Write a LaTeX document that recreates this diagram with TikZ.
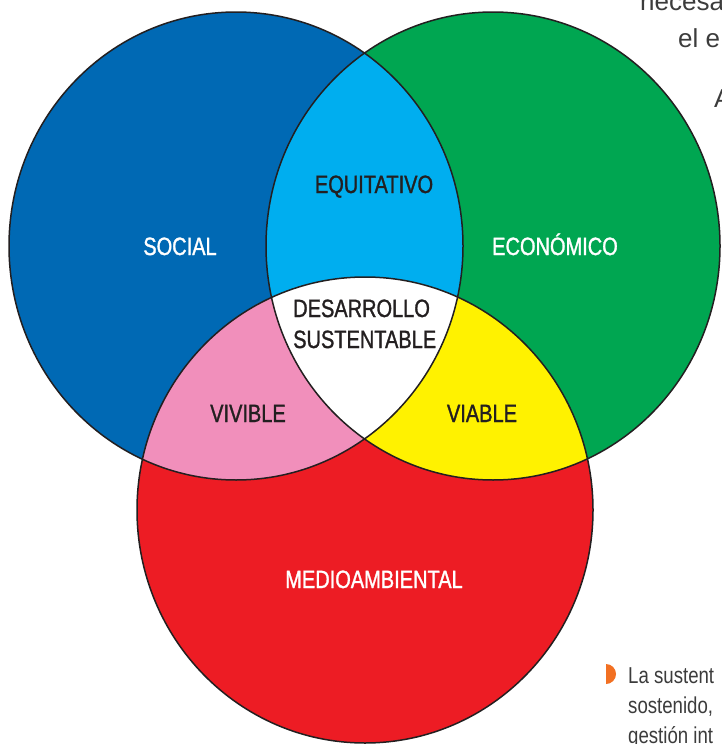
\documentclass[tikz,border=0pt]{standalone}
\usepackage{fontspec}
\setmainfont{Liberation Sans}
\newfontfamily\labelfont{Liberation Sans}[FakeStretch=0.8, FakeBold=1.2]
\newfontfamily\bodyfont{Liberation Sans}[FakeStretch=0.81]
\definecolor{socialblue}{RGB}{0,105,180}
\definecolor{econgreen}{RGB}{0,166,81}
\definecolor{envred}{RGB}{237,28,36}
\definecolor{eqblue}{RGB}{0,174,239}
\definecolor{vivpink}{RGB}{241,143,187}
\definecolor{viayellow}{RGB}{255,242,0}
\definecolor{darktext}{RGB}{35,31,32}
\definecolor{pagetext}{RGB}{60,60,60}
\definecolor{markorange}{RGB}{242,112,34}
\tikzset{
  spath/.style={insert path={(236,246) ellipse [x radius=227pt, y radius=234pt]}},
  epath/.style={insert path={(493,246) ellipse [x radius=227pt, y radius=234pt]}},
  rpath/.style={insert path={(365,510) ellipse [x radius=228pt, y radius=233pt]}},
  outline/.style={draw=darktext, line width=1.5pt},
  lbl/.style={font=\labelfont\fontsize{25}{30}\selectfont, anchor=base, inner sep=0pt},
  whitelbl/.style={lbl, text=white},
  darklbl/.style={lbl, text=darktext},
  pagefont/.style={font=\fontsize{26}{30}\selectfont, text=pagetext, anchor=base west, inner sep=0pt},
  bodyline/.style={font=\bodyfont\fontsize{23}{30}\selectfont, text=pagetext, anchor=base west, inner sep=0pt}
}
\begin{document}
\begin{tikzpicture}[x=1pt,y=-1pt]
\useasboundingbox (0,0) rectangle (721,744);
\clip (0,0) rectangle (721,744);
\fill[white] (0,0) rectangle (721,744);
% base circles
\fill[socialblue, spath];
\fill[econgreen, epath];
\fill[envred, rpath];
% pairwise intersections
\begin{scope}
  \clip[spath];
  \fill[eqblue, epath];
\end{scope}
\begin{scope}
  \clip[spath];
  \fill[vivpink, rpath];
\end{scope}
\begin{scope}
  \clip[epath];
  \fill[viayellow, rpath];
\end{scope}
% triple intersection
\begin{scope}
  \clip[spath];
  \clip[epath];
  \fill[white, rpath];
\end{scope}
% outlines
\draw[outline, spath];
\draw[outline, epath];
\draw[outline, rpath];
% labels
\node[whitelbl] (social) at (180,255) {SOCIAL};
\node[whitelbl] (economico) at (555,255) {ECONÓMICO};
\node[whitelbl] (medio) at (374,588) {MEDIOAMBIENTAL};
\node[darklbl] (equitativo) at (374,193) {EQUITATIVO};
\node[darklbl] (vivible) at (248,422) {VIVIBLE};
\node[darklbl] (viable) at (482,422) {VIABLE};
\node[darklbl, anchor=base west] (desarrollo) at (293,317) {DESARROLLO};
\node[darklbl, anchor=base west] (sustentable) at (293,348) {SUSTENTABLE};
% page text fragments
\node[pagefont] (t1) at (640,10) {necesa};
\node[pagefont] (t2) at (678,47) {el e};
\node[pagefont] (t3) at (714,107) {A};
\fill[markorange] (606,664) -- (606,684) arc[start angle=-90, end angle=90, radius=10pt] -- cycle;
\node[bodyline] (b1) at (628,683) {La sustent};
\node[bodyline] (b2) at (628,713) {sostenido,};
\node[bodyline] (b3) at (628,743) {gestión int};
\end{tikzpicture}
\end{document}
